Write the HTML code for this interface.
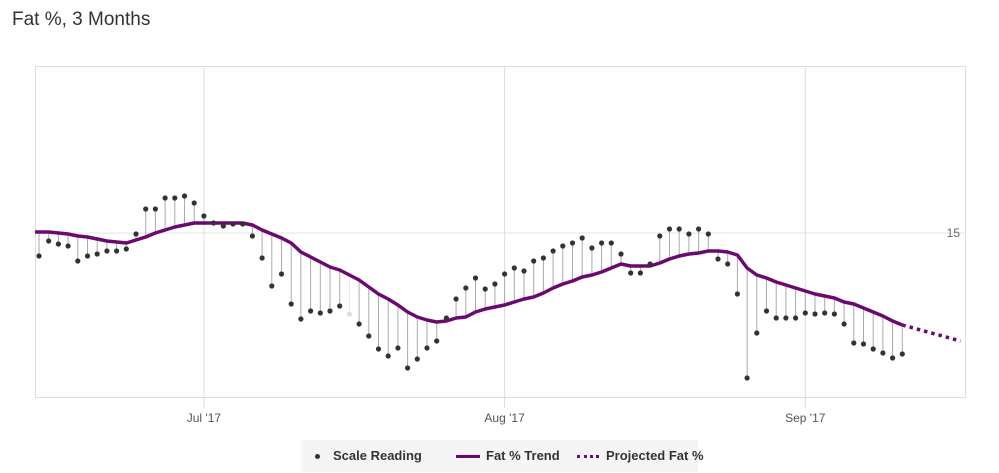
<!DOCTYPE html>
<html><head><meta charset="utf-8"><style>
html,body{margin:0;padding:0;background:#fff;width:999px;height:473px;overflow:hidden;font-family:"Liberation Sans",sans-serif}
#title{position:absolute;left:12px;top:9px;font-size:19px;color:#333}
#legend{position:absolute;left:301px;top:440px;width:397px;height:32px;background:#f5f5f5;font-size:13px;font-weight:bold;color:#333}
.li{position:absolute;top:8px;white-space:nowrap}
</style></head><body>
<div id="title">Fat %, 3 Months</div>
<svg id="chart" width="999" height="440" style="position:absolute;left:0;top:0"></svg>
<div id="legend">
 <div class="li" style="left:14px"><span style="display:inline-block;width:5px;height:5px;border-radius:50%;background:#333;vertical-align:middle;margin-right:13px"></span>Scale Reading</div>
 <div class="li" style="left:155px"><span style="display:inline-block;width:24px;height:3px;background:#6a0a6e;vertical-align:middle;margin-right:6px"></span>Fat % Trend</div>
 <div class="li" style="left:276px"><span style="display:inline-block;width:22px;border-top:3px dotted #6a0a6e;vertical-align:middle;margin-right:7px"></span>Projected Fat %</div>
</div>
<script>
const readings=[13.85,14.6,14.45,14.35,13.6,13.85,13.95,14.1,14.1,14.2,14.95,16.2,16.2,16.75,16.75,16.85,16.5,15.85,15.5,15.35,15.45,15.45,14.85,13.75,12.35,12.95,11.45,10.7,11.1,11.0,11.1,11.35,10.95,10.45,
9.85,9.2,8.85,9.25,8.25,8.7,9.25,9.6,10.75,11.7,12.25,12.75,12.2,12.45,12.95,13.25,13.1,13.6,13.75,14.1,14.35,14.5,14.75,14.25,14.5,14.5,13.95,13.0,13.0,13.45,14.85,
15.2,15.2,14.95,15.2,14.95,13.7,13.45,11.95,7.75,10.0,11.1,10.75,10.75,10.75,11.0,10.95,11.0,10.95,10.45,9.5,9.45,9.2,9.0,8.75,8.95];
const trend=[15.05,15.05,15,14.95,14.85,14.8,14.7,14.6,14.55,14.5,14.65,14.8,15,15.15,15.3,15.4,15.5,15.5,15.5,15.5,15.5,15.5,15.4,15.15,14.95,14.75,14.5,14.05,13.8,13.55,13.3,13.15,12.9,12.65,
12.3,11.95,11.7,11.4,11.05,10.8,10.65,10.55,10.6,10.75,10.8,11.05,11.2,11.3,11.4,11.55,11.7,11.8,12,12.25,12.45,12.6,12.8,12.9,13.05,13.25,13.45,13.35,13.35,13.35,13.5,
13.7,13.85,13.95,14,14.1,14.1,14.05,13.9,13.25,12.9,12.75,12.55,12.4,12.25,12.1,11.95,11.85,11.75,11.55,11.45,11.25,11.05,10.85,10.6,10.4];
const projected=[10.4,9.6];
const projectedDays=[89,95];
const xTickDays=[17,48,79];
const xTickLabels=["Jul '17","Aug '17","Sep '17"];
const yTicks=[15];
const fadedIdx=[32];
const X=d=>39+d*9.7, Y=v=>533-v*20;
const svg=document.getElementById('chart'),NS='http://www.w3.org/2000/svg';
function mk(t,a,p){const e=document.createElementNS(NS,t);for(const k in a)e.setAttribute(k,a[k]);(p||svg).appendChild(e);return e;}
const frame=mk('rect',{x:35.5,y:66.5,width:930,height:331,fill:'none',stroke:'#ddd'});


yTicks.forEach(v=>{const g=mk('line',{x1:35,x2:966,y1:Y(v),y2:Y(v),stroke:'#e6e6e6'});


const t=mk('text',{x:960,y:Y(v)+4,'text-anchor':'end','font-size':12,fill:'#666','font-family':'Liberation Sans, sans-serif'});t.textContent=v;

});
xTickDays.forEach((d,i)=>{const g=mk('line',{x1:X(d),x2:X(d),y1:66,y2:408,stroke:'#ddd'});


const t=mk('text',{x:X(d),y:422,'text-anchor':'middle','font-size':12,fill:'#555','font-family':'Liberation Sans, sans-serif'});t.textContent=xTickLabels[i];

});
readings.forEach((v,i)=>{const f=fadedIdx.includes(i);const l=mk('line',{x1:X(i),x2:X(i),y1:Y(trend[i]),y2:Y(v),stroke:f?'#e6e6e6':'#aaa','stroke-width':1});

});
const tp=mk('polyline',{points:trend.map((v,i)=>(i==0?35:X(i))+','+Y(v)).join(' '),fill:'none',stroke:'#6a0a6e','stroke-width':3.5,'stroke-linejoin':'round'});


const pp=mk('polyline',{points:projected.map((v,i)=>X(projectedDays[i])+','+Y(v)).join(' '),fill:'none',stroke:'#6a0a6e','stroke-width':3.5,'stroke-dasharray':'3.5 4'});


readings.forEach((v,i)=>{const f=fadedIdx.includes(i);const c=mk('circle',{cx:X(i),cy:Y(v),r:2.6,fill:f?'#ddd':'#333'});

});
</script>
</body></html>
